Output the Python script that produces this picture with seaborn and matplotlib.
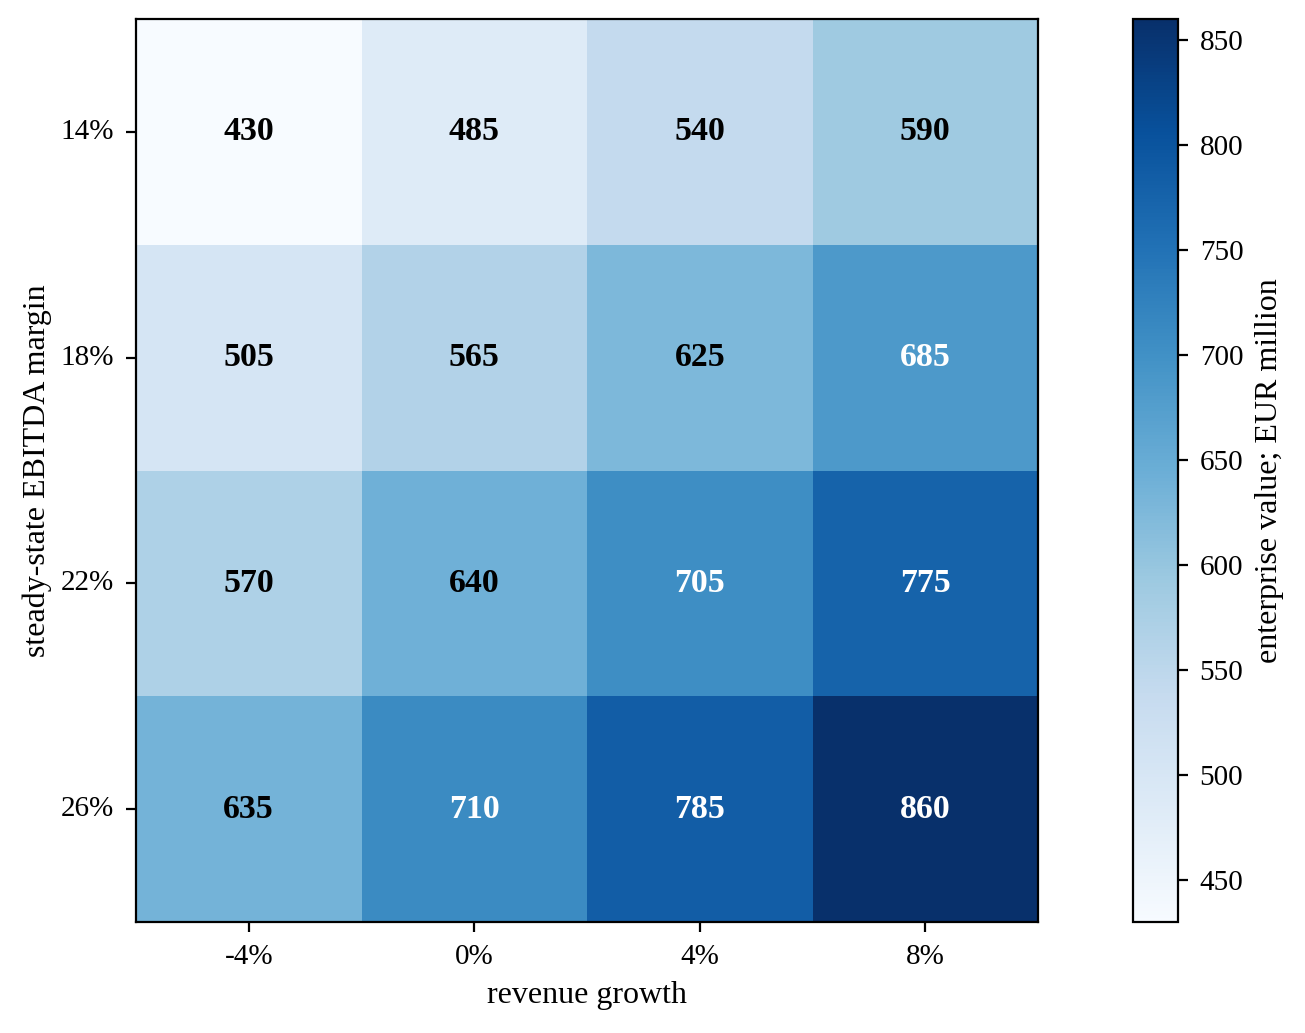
import numpy as np
import pandas as pd
import matplotlib
matplotlib.use("Agg")
import matplotlib.pyplot as plt
import seaborn as sns

growth = ["-4%", "0%", "4%", "8%"]
margin = ["14%", "18%", "22%", "26%"]
ev_14 = [430, 485, 540, 590]
ev_18 = [505, 565, 625, 685]
ev_22 = [570, 640, 705, 775]
ev_26 = [635, 710, 785, 860]

sns.set_theme(style="white")
plt.rcParams["font.family"] = ["Liberation Serif", "DejaVu Serif"]
plt.rcParams["text.color"] = "black"
plt.rcParams["axes.labelcolor"] = "black"
plt.rcParams["xtick.color"] = "black"
plt.rcParams["ytick.color"] = "black"

grid = pd.DataFrame([ev_14, ev_18, ev_22, ev_26], index=margin, columns=growth)
vmin, vmax = grid.values.min(), grid.values.max()

W, H = 1305, 1033
fig = plt.figure(figsize=(W / 200, H / 200), dpi=200)
ax = fig.add_axes([136 / W, 111 / H, 902 / W, 903 / H])
cax = fig.add_axes([1133 / W, 111 / H, 45 / W, 903 / H])

sns.heatmap(grid, cmap="Blues", vmin=vmin, vmax=vmax, ax=ax, cbar_ax=cax,
            cbar_kws={"label": "enterprise value; EUR million"})

mid = (vmin + vmax) / 2
for i, row in enumerate(grid.values):
    for j, v in enumerate(row):
        ax.text(j + 0.5, i + 0.5, f"{v}", ha="center", va="center",
                fontsize=12.2, fontweight="bold",
                color="white" if v > mid else "black")

for s in ax.spines.values():
    s.set_visible(True)
    s.set_color("black")
    s.set_linewidth(0.8)
ax.tick_params(axis="both", which="both", length=3.5, width=0.8, pad=4.3,
               labelsize=10.5, left=True, bottom=True)
ax.set_yticklabels(margin, rotation=0)
ax.set_xticklabels(growth, rotation=0)
ax.set_xlabel("revenue growth", fontsize=11.5, labelpad=4)
ax.set_ylabel("steady-state EBITDA margin", fontsize=11.5, labelpad=3)

cbar = ax.collections[0].colorbar
cbar.outline.set_visible(True)
cbar.outline.set_edgecolor("black")
cbar.outline.set_linewidth(0.8)
cbar.set_ticks(np.arange(450, 851, 50))
cax.tick_params(labelsize=10.5, length=3.5, width=0.8, pad=4.3, right=True)
cax.yaxis.label.set_size(11.5)

fig.savefig("out.png", dpi=200)
